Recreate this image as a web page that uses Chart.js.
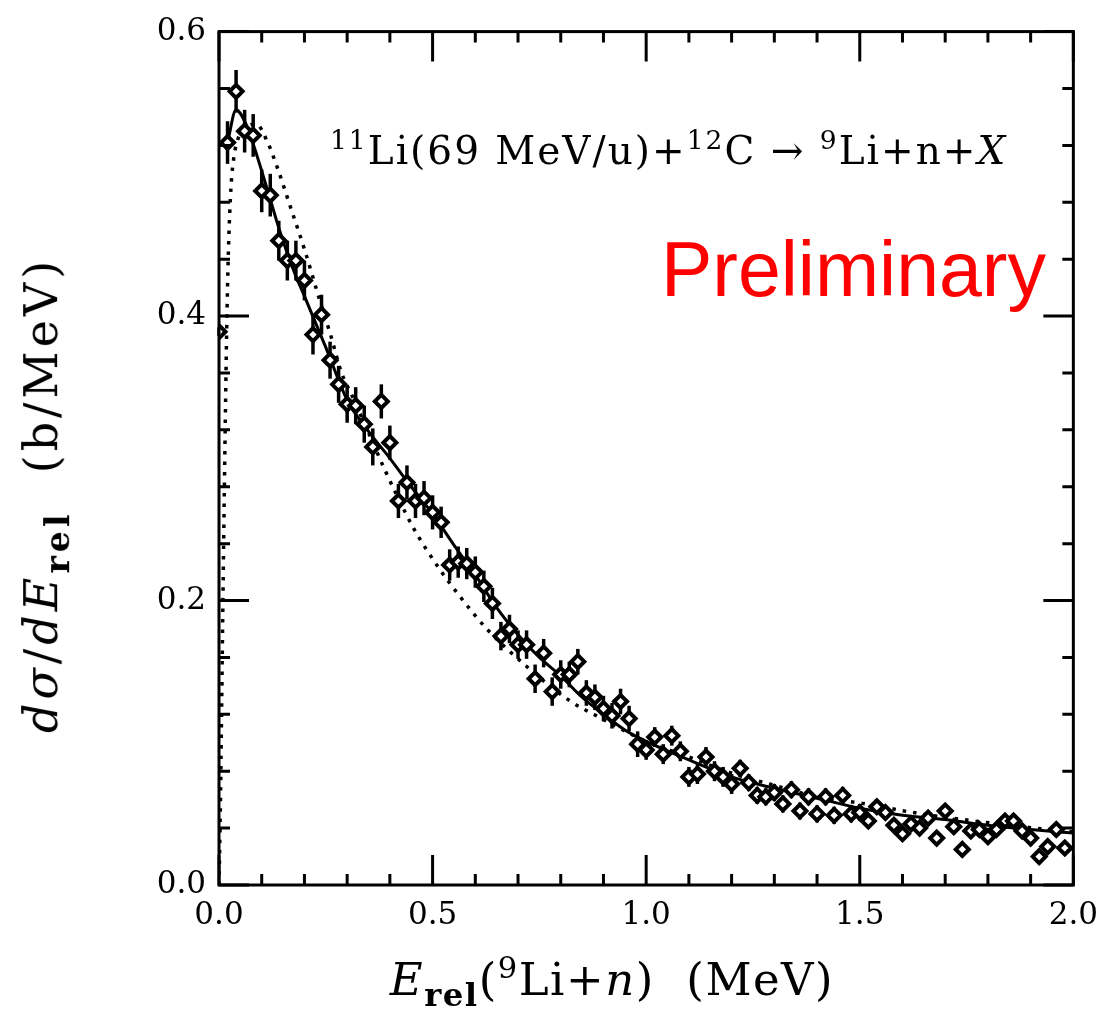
<!DOCTYPE html>
<html>
<head>
<meta charset="utf-8">
<script src="https://cdn.jsdelivr.net/npm/chart.js@4.4.1/dist/chart.umd.min.js"></script>
<style>
  body { margin: 0; background: #fff; }
  #wrap { position: relative; width: 1110px; height: 1019px; }
  #c { position: absolute; left: 0; top: 0; }
  .txt { position: absolute; font-family: "DejaVu Serif", serif; color: #000; white-space: nowrap; line-height: 1; }
  .txt sup { font-size: 0.68em; vertical-align: 0.55em; }
  .txt sub { font-size: 0.72em; vertical-align: -0.35em; font-weight: bold; }
  #reaction { left: 330px; top: 127px; font-size: 39px; letter-spacing: 2px; }
  #prelim { right: 64px; top: 231px; font-family: "Liberation Sans", Arial, sans-serif; font-size: 77px; color: #ff0000; }
  #xtitle { left: 612px; top: 953px; font-size: 45px; letter-spacing: 1.5px; transform: translateX(-50%); }
  #ytitle { left: 46px; top: 495px; font-size: 46px; letter-spacing: 4px; transform: translate(-50%, -50%) rotate(-90deg); }
</style>
</head>
<body>
<div id="wrap">
  <canvas id="c" width="1110" height="1019"></canvas>
  <div id="reaction" class="txt"><sup>11</sup>Li(69&nbsp;MeV/u)+<sup>12</sup>C&nbsp;→&nbsp;<sup>9</sup>Li+n+<i>X</i></div>
  <div id="prelim" class="txt">Preliminary</div>
  <div id="xtitle" class="txt"><i>E</i><sub>rel</sub>(<sup>9</sup>Li+<i>n</i>)&nbsp;&nbsp;(MeV)</div>
  <div id="ytitle" class="txt"><i>dσ</i>/<i>dE</i><sub>rel</sub>&nbsp;&nbsp;(b/MeV)</div>
</div>
<script>
// measured spectrum (MeV, b/MeV)
const energy = [
  0.00, 0.02, 0.04, 0.06, 0.08, 0.10, 0.12, 0.14, 0.16, 0.18,
  0.20, 0.22, 0.24, 0.26, 0.28, 0.30, 0.32, 0.34, 0.36, 0.38,
  0.40, 0.42, 0.44, 0.46, 0.48, 0.50, 0.52, 0.54, 0.56, 0.58,
  0.60, 0.62, 0.64, 0.66, 0.68, 0.70, 0.72, 0.74, 0.76, 0.78,
  0.80, 0.82, 0.84, 0.86, 0.88, 0.90, 0.92, 0.94, 0.96, 0.98,
  1.00, 1.02, 1.04, 1.06, 1.08, 1.10, 1.12, 1.14, 1.16, 1.18,
  1.20, 1.22, 1.24, 1.26, 1.28, 1.30, 1.32, 1.34, 1.36, 1.38,
  1.40, 1.42, 1.44, 1.46, 1.48, 1.50, 1.52, 1.54, 1.56, 1.58,
  1.60, 1.62, 1.64, 1.66, 1.68, 1.70, 1.72, 1.74, 1.76, 1.78,
  1.80, 1.82, 1.84, 1.86, 1.88, 1.90, 1.92, 1.94, 1.96, 1.98
];
const xsec = [
  0.389, 0.522, 0.558, 0.530, 0.527, 0.488, 0.485, 0.453, 0.439, 0.439,
  0.425, 0.387, 0.401, 0.369, 0.352, 0.338, 0.337, 0.324, 0.308, 0.340,
  0.311, 0.270, 0.283, 0.270, 0.272, 0.262, 0.255, 0.225, 0.227, 0.226,
  0.220, 0.210, 0.198, 0.175, 0.180, 0.169, 0.169, 0.145, 0.163, 0.136,
  0.148, 0.148, 0.157, 0.135, 0.132, 0.124, 0.119, 0.129, 0.117, 0.099,
  0.095, 0.104, 0.092, 0.105, 0.094, 0.076, 0.078, 0.090, 0.080, 0.076,
  0.071, 0.082, 0.072, 0.063, 0.062, 0.065, 0.057, 0.067, 0.052, 0.062,
  0.050, 0.062, 0.049, 0.063, 0.050, 0.051, 0.045, 0.055, 0.051, 0.042,
  0.036, 0.043, 0.040, 0.047, 0.033, 0.052, 0.041, 0.025, 0.038, 0.039,
  0.034, 0.039, 0.045, 0.045, 0.038, 0.033, 0.020, 0.027, 0.039, 0.026
];
const xsecErr = [
  0.003, 0.015, 0.015, 0.015, 0.015, 0.015, 0.015, 0.014, 0.014, 0.014,
  0.014, 0.014, 0.014, 0.013, 0.013, 0.013, 0.013, 0.013, 0.013, 0.012,
  0.012, 0.012, 0.012, 0.012, 0.012, 0.012, 0.011, 0.011, 0.011, 0.011,
  0.011, 0.011, 0.011, 0.010, 0.010, 0.010, 0.010, 0.010, 0.010, 0.010,
  0.010, 0.009, 0.009, 0.009, 0.009, 0.009, 0.009, 0.009, 0.009, 0.009,
  0.007, 0.007, 0.007, 0.007, 0.007, 0.007, 0.007, 0.007, 0.007, 0.007,
  0.007, 0.006, 0.006, 0.006, 0.006, 0.006, 0.006, 0.006, 0.006, 0.006,
  0.006, 0.006, 0.006, 0.006, 0.006, 0.006, 0.005, 0.005, 0.005, 0.005,
  0.005, 0.005, 0.005, 0.005, 0.005, 0.005, 0.005, 0.005, 0.005, 0.005,
  0.005, 0.005, 0.005, 0.005, 0.005, 0.005, 0.005, 0.005, 0.005, 0.005
];

// solid curve (fit)
const fitE = [0.02, 0.04, 0.06, 0.08, 0.10, 0.12, 0.14, 0.16, 0.18, 0.20, 0.25, 0.30, 0.35, 0.40, 0.45,
  0.50, 0.55, 0.60, 0.65, 0.70, 0.75, 0.80, 0.85, 0.90, 0.95, 1.00, 1.10, 1.20, 1.30, 1.40, 1.50,
  1.60, 1.70, 1.80, 1.90, 2.00];
const fitY = [0.522, 0.545, 0.537, 0.521, 0.502, 0.482, 0.462, 0.444, 0.428, 0.414, 0.378, 0.341, 0.319, 0.300, 0.280,
  0.261, 0.239, 0.218, 0.195, 0.176, 0.160, 0.147, 0.132, 0.120, 0.109, 0.101, 0.088, 0.076, 0.068, 0.061, 0.054,
  0.049, 0.046, 0.042, 0.039, 0.0365];

// dotted curve
const calcE = [0.0, 0.003, 0.006, 0.010, 0.014, 0.018, 0.022, 0.028, 0.035, 0.045, 0.060, 0.087, 0.114, 0.137,
  0.168, 0.200, 0.237, 0.260, 0.287, 0.310, 0.353, 0.388, 0.418, 0.457, 0.519, 0.561, 0.627, 0.719, 0.819,
  0.896, 1.00, 1.10, 1.197, 1.313, 1.405, 1.505, 1.636, 1.790, 1.944, 2.00];
const calcY = [0.0, 0.05, 0.12, 0.22, 0.31, 0.39, 0.445, 0.49, 0.512, 0.525, 0.532, 0.535, 0.522, 0.504,
  0.476, 0.447, 0.410, 0.388, 0.360, 0.345, 0.316, 0.292, 0.273, 0.250, 0.221, 0.204, 0.180, 0.154, 0.130,
  0.117, 0.101, 0.090, 0.079, 0.069, 0.0616, 0.0574, 0.0504, 0.0442, 0.0389, 0.0373];

const pts = energy.map((e, i) => ({ x: e, y: xsec[i] }));
const fitPts = fitE.map((e, i) => ({ x: e, y: fitY[i] }));
const calcPts = calcE.map((e, i) => ({ x: e, y: calcY[i] }));

const errorBars = {
  id: 'errorBars',
  beforeDatasetsDraw(chart) {
    const ctx = chart.ctx, xs = chart.scales.x, ys = chart.scales.y;
    ctx.save();
    ctx.strokeStyle = '#000';
    ctx.lineWidth = 3.5;
    energy.forEach((e, i) => {
      const px = xs.getPixelForValue(e);
      ctx.beginPath();
      ctx.moveTo(px, ys.getPixelForValue(xsec[i] - xsecErr[i]));
      ctx.lineTo(px, ys.getPixelForValue(xsec[i] + xsecErr[i]));
      ctx.stroke();
    });
    ctx.restore();
  }
};

const frame = {
  id: 'frame',
  afterDraw(chart) {
    const ctx = chart.ctx, a = chart.chartArea, xs = chart.scales.x, ys = chart.scales.y;
    ctx.save();
    ctx.strokeStyle = '#000';
    ctx.lineWidth = 3;
    ctx.beginPath();
    for (let i = 0; i <= 20; i++) {
      const px = xs.getPixelForValue(i * 0.1);
      const len = i % 5 === 0 ? 30 : 11;
      ctx.moveTo(px, a.bottom); ctx.lineTo(px, a.bottom - len);
      ctx.moveTo(px, a.top); ctx.lineTo(px, a.top + len);
    }
    for (let i = 0; i <= 15; i++) {
      const py = ys.getPixelForValue(i * 0.04);
      const len = i % 5 === 0 ? 30 : 11;
      ctx.moveTo(a.left, py); ctx.lineTo(a.left + len, py);
      ctx.moveTo(a.right, py); ctx.lineTo(a.right - len, py);
    }
    ctx.stroke();
    ctx.strokeRect(a.left, a.top, a.right - a.left, a.bottom - a.top);
    ctx.restore();
  }
};

const tickFont = { family: 'DejaVu Serif', size: 31 };

new Chart(document.getElementById('c'), {
  type: 'scatter',
  data: {
    datasets: [
      {
        label: 'data',
        data: pts,
        pointStyle: 'rectRot',
        pointRadius: 6.5,
        pointBorderWidth: 4,
        pointBorderColor: '#000',
        pointBackgroundColor: '#fff',
        order: 0
      },
      {
        label: 'fit',
        type: 'line',
        data: fitPts,
        borderColor: '#000',
        borderWidth: 3,
        pointRadius: 0,
        cubicInterpolationMode: 'monotone',
        fill: false,
        order: 1
      },
      {
        label: 'calc',
        type: 'line',
        data: calcPts,
        borderColor: '#000',
        borderWidth: 3.5,
        borderDash: [3.5, 7],
        pointRadius: 0,
        cubicInterpolationMode: 'monotone',
        fill: false,
        order: 2
      }
    ]
  },
  options: {
    responsive: false,
    devicePixelRatio: 1,
    animation: false,
    layout: { padding: { left: 0, right: 26, top: 24, bottom: 0 } },
    plugins: { legend: { display: false }, tooltip: { enabled: false } },
    scales: {
      x: {
        type: 'linear', min: 0, max: 2,
        afterFit(s) { s.height = 134; },
        grid: { display: false, drawTicks: false },
        border: { display: false },
        ticks: { stepSize: 0.5, color: '#000', font: tickFont, padding: 12, maxRotation: 0,
          callback: v => v.toFixed(1) }
      },
      y: {
        type: 'linear', min: 0, max: 0.6,
        afterFit(s) { s.width = 219; },
        grid: { display: false, drawTicks: false },
        border: { display: false },
        ticks: { stepSize: 0.2, color: '#000', font: tickFont, padding: 13,
          callback: v => v.toFixed(1) }
      }
    }
  },
  plugins: [errorBars, frame]
});
</script>
</body>
</html>
